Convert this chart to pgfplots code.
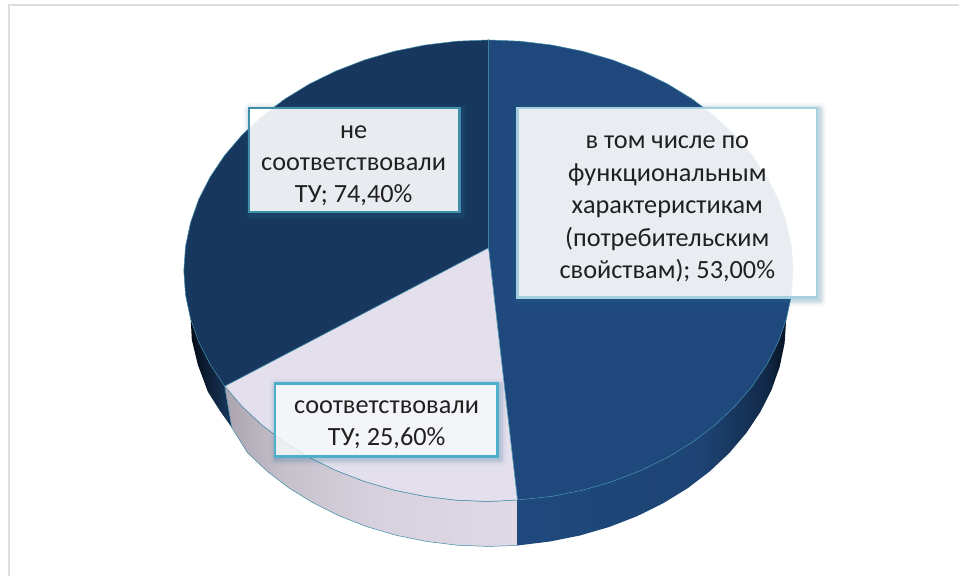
\documentclass[border=0pt]{standalone}
\usepackage{fontspec}
\setmainfont{Carlito}
\usepackage{pgfplots}
\pgfplotsset{compat=1.18}

% slice and border colours
\definecolor{sliceA}{HTML}{1F497D}
\definecolor{sliceB}{HTML}{E4DFEC}
\definecolor{sliceC}{HTML}{17375E}
\definecolor{rimline}{HTML}{3F8CA6}
\definecolor{frameline}{HTML}{DEDEDE}
\definecolor{shadowtint}{HTML}{2F6F94}
\definecolor{labeltext}{HTML}{202020}
\definecolor{boxA}{HTML}{A5CFDC}
\definecolor{boxB}{HTML}{3F8FA8}
\definecolor{boxC}{HTML}{4DB0CB}
\definecolor{boxCfill}{HTML}{F7FBFB}

% rim shadings, dark towards the far sides of the disc
\definecolor{rA0}{HTML}{1F497D}\definecolor{rA1}{HTML}{1D4474}
\definecolor{rA2}{HTML}{18375F}\definecolor{rA3}{HTML}{122A4A}
\definecolor{rA4}{HTML}{071320}
\pgfdeclarehorizontalshading{rimA}{100bp}{color(0bp)=(rA0); color(25bp)=(rA0);
  color(59bp)=(rA1); color(65bp)=(rA2); color(71bp)=(rA3); color(75bp)=(rA4); color(100bp)=(rA4)}
\definecolor{rB0}{HTML}{ABA4AF}\definecolor{rB1}{HTML}{C6C0CB}
\definecolor{rB2}{HTML}{D6D1DC}\definecolor{rB3}{HTML}{DED9E5}
\pgfdeclarehorizontalshading{rimB}{100bp}{color(0bp)=(rB0); color(25bp)=(rB0);
  color(35bp)=(rB1); color(50bp)=(rB2); color(75bp)=(rB3); color(100bp)=(rB3)}
\definecolor{rC0}{HTML}{050D18}\definecolor{rC1}{HTML}{18385F}

% soft shadow around a label box, corners #1,#2 and #3,#4; the box itself stays clear of it
\newcommand{\softshadow}[4]{%
  \fill[shadowtint,opacity=.07,even odd rule,rounded corners=1pt] (axis cs:#1,#2) rectangle ([shift={(4pt,-4pt)}]axis cs:#3,#4) [sharp corners] (axis cs:#1,#2) rectangle (axis cs:#3,#4);
  \fill[shadowtint,opacity=.06,even odd rule,rounded corners=2pt] ([shift={(-1pt,1pt)}]axis cs:#1,#2) rectangle ([shift={(5pt,-5pt)}]axis cs:#3,#4) [sharp corners] (axis cs:#1,#2) rectangle (axis cs:#3,#4);
  \fill[shadowtint,opacity=.06,even odd rule,rounded corners=3pt] ([shift={(-2pt,2pt)}]axis cs:#1,#2) rectangle ([shift={(6pt,-6pt)}]axis cs:#3,#4) [sharp corners] (axis cs:#1,#2) rectangle (axis cs:#3,#4);
  \fill[shadowtint,opacity=.05,even odd rule,rounded corners=4pt] ([shift={(-3pt,3pt)}]axis cs:#1,#2) rectangle ([shift={(7pt,-7pt)}]axis cs:#3,#4) [sharp corners] (axis cs:#1,#2) rectangle (axis cs:#3,#4);
  \fill[shadowtint,opacity=.04,even odd rule,rounded corners=6pt] ([shift={(-5pt,5pt)}]axis cs:#1,#2) rectangle ([shift={(9pt,-9pt)}]axis cs:#3,#4) [sharp corners] (axis cs:#1,#2) rectangle (axis cs:#3,#4);
}

\begin{document}
\begin{tikzpicture}
\begin{axis}[
  scale only axis, width=960pt, height=577pt,
  xmin=0, xmax=960, ymin=0, ymax=577, y dir=reverse,
  axis lines=none, clip=false,
]
% page background and the chart frame
\fill[white] (axis cs:0,0) rectangle (axis cs:960,577);
\addplot[draw=frameline, line width=2pt] coordinates {(9,577) (9,5.5) (960,5.5)};

% rim of the disc: dark slice
\addplot[draw=none, left color=rC0, right color=rC1] coordinates {
  (191,320) (198.9,342.4) (210.4,364.9) (224.9,386.5) (232,428) (220,411) (208,392) (198,365) (192,340)
} --cycle;
% rim: light slice
\addplot[draw=rimline, line width=0.5pt, shading=rimB] coordinates {
  (224.9,386.5) (242.3,406.8) (262.4,425.6) (284.9,442.7) (309.7,457.9) (336.5,471.0)
  (365.0,482.0) (394.8,490.7) (425.6,496.9) (457.1,500.7) (489,502) (518,500.5)
  (518,546) (489,547) (457.9,545.8) (427,542) (396.9,535.9) (367.8,527.4) (340,516.6)
  (313.8,503.6) (289.6,488.7) (267.6,471.9) (247.9,453.4) (232,428)
} --cycle;
% rim: large slice
\addplot[draw=none, shading=rimA] coordinates {
  (787.3,319.0) (779.1,342.4) (767.6,364.9) (753.1,386.5) (735.7,406.8) (715.6,425.6)
  (693.1,442.7) (668.3,457.9) (641.5,471.0) (613.0,482.0) (583.2,490.7) (552.4,496.9) (518,500.5)
  (518,546) (520.1,545.8) (551,542) (581.1,535.9) (610.2,527.4) (638,516.6) (664.2,503.6)
  (688.4,488.7) (710.4,471.9) (730.1,453.4) (747,433.5) (761.2,412.3) (772.4,390.1)
  (780.5,367.2) (785.4,343.7) (787,320)
} --cycle;

% top face: large slice
\addplot[fill=sliceA, draw=rimline, line width=0.5pt] coordinates {
  (489,248) (489,40) (520.9,41.3) (552.4,45.1) (583.2,51.3) (613.0,60.0) (641.5,71.0)
  (668.3,84.1) (693.1,99.3) (715.6,116.4) (735.7,135.2) (753.1,155.5) (767.6,177.1)
  (779.1,199.6) (787.3,223.0) (792.3,246.9) (794,271) (792.3,295.1) (787.3,319.0)
  (779.1,342.4) (767.6,364.9) (753.1,386.5) (735.7,406.8) (715.6,425.6) (693.1,442.7)
  (668.3,457.9) (641.5,471.0) (613.0,482.0) (583.2,490.7) (552.4,496.9) (518,500.5)
} --cycle;
% top face: light slice
\addplot[fill=sliceB, draw=rimline, line width=0.5pt] coordinates {
  (489,248) (518,500.5) (489,502) (457.1,500.7) (425.6,496.9) (394.8,490.7) (365.0,482.0)
  (336.5,471.0) (309.7,457.9) (284.9,442.7) (262.4,425.6) (242.3,406.8) (224.9,386.5)
} --cycle;
% top face: dark slice
\addplot[fill=sliceC, draw=rimline, line width=0.5pt] coordinates {
  (489,248) (224.9,386.5) (210.4,364.9) (198.9,342.4) (190.7,319.0) (185.7,295.1) (184,271)
  (185.7,246.9) (190.7,223) (198.9,199.6) (210.4,177.1) (224.9,155.5) (242.3,135.2)
  (262.4,116.4) (284.9,99.3) (309.7,84.1) (336.5,71.0) (365,60) (394.8,51.3) (425.6,45.1)
  (457.1,41.3) (489,40)
} --cycle;

% data labels
\softshadow{518}{108}{818}{298}
\fill[white,opacity=.9] (axis cs:518,108) rectangle (axis cs:818,298);
\draw[color=boxA,line width=2.4pt] (axis cs:518,108) rectangle (axis cs:818,298);
\node[text=labeltext,align=center,font=\fontsize{26.3}{32.5}\selectfont] at (axis cs:668,209.5) {в том числе по\\функциональным\\характеристикам\\(потребительским\\свойствам); 53,00\%};

\softshadow{249}{108}{460}{212}
\fill[white,opacity=.9] (axis cs:249,108) rectangle (axis cs:460,212);
\draw[color=boxB,line width=2.4pt] (axis cs:249,108) rectangle (axis cs:460,212);
\node[text=labeltext,align=center,font=\fontsize{26.3}{32.5}\selectfont] at (axis cs:354,166) {не\\соответствовали\\ТУ; 74,40\%};

\softshadow{275}{384}{498}{457}
\fill[boxCfill,opacity=.8] (axis cs:275,384) rectangle (axis cs:498,457);
\draw[color=boxC,line width=2.4pt] (axis cs:275,384) rectangle (axis cs:498,457);
\node[text=labeltext,align=center,font=\fontsize{26.3}{32.5}\selectfont] at (axis cs:387,425.5) {соответствовали\\ТУ; 25,60\%};
\end{axis}
\end{tikzpicture}
\end{document}
